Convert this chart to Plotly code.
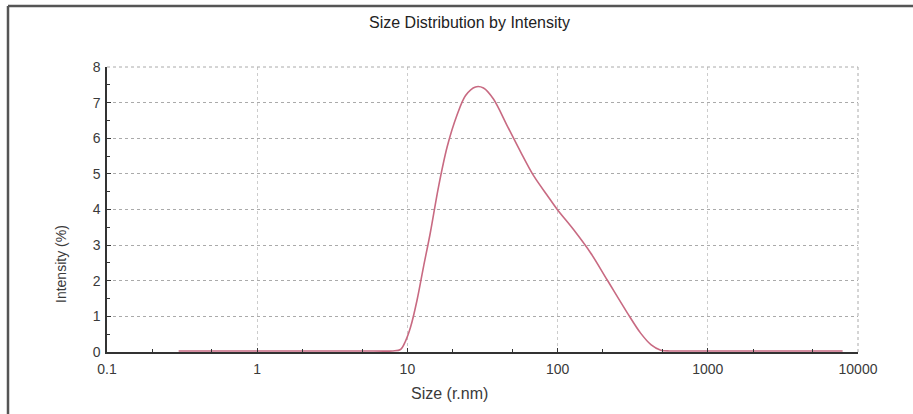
import plotly.graph_objects as go

# Data
size_nm = [0.3, 0.5, 1, 2, 5, 8.0, 9.0, 9.7, 10.5, 11.6, 12.8, 14.2, 16.1, 18.4, 21.4,
           24.4, 28.4, 32.1, 37.4, 46.2, 56.7, 69.2, 85.2, 99.5, 128, 166, 214, 291,
           357, 420, 486, 560, 1000, 3000, 7900]
intensity = [0.03, 0.03, 0.03, 0.03, 0.03, 0.03, 0.07, 0.3, 0.7, 1.46, 2.39, 3.34, 4.63,
             5.76, 6.65, 7.2, 7.44, 7.41, 7.1, 6.35, 5.62, 4.95, 4.4, 4.0, 3.43, 2.78,
             2.02, 1.1, 0.53, 0.2, 0.05, 0.03, 0.03, 0.03, 0.03]

x_tickvals = [0.1, 1, 10, 100, 1000, 10000]
x_ticktext = ["0.1", "1", "10", "100", "1000", "10000"]
y_tickvals = [0, 1, 2, 3, 4, 5, 6, 7, 8]

W, H = 913, 414
L, R, T, B = 107, 55, 67, 62

fig = go.Figure()
fig.add_trace(go.Scatter(
    x=size_nm, y=intensity, mode="lines",
    line=dict(color="#c86a82", width=1.6, shape="spline", smoothing=0.9),
    showlegend=False, hoverinfo="skip"))

font = "Liberation Sans, Arial, sans-serif"
txt = "#3a3a3a"

fig.update_layout(
    width=W, height=H,
    margin=dict(l=L, r=R, t=T, b=B),
    paper_bgcolor="white", plot_bgcolor="white",
    font=dict(family=font, size=14, color=txt),
    xaxis=dict(
        type="log", range=[-1, 4],
        tickvals=x_tickvals, ticktext=x_ticktext,
        showgrid=True, gridcolor="#cccccc", gridwidth=1, griddash="dot",
        showline=True, linecolor="#333333", linewidth=1.5,
        ticks="inside", ticklen=4, tickcolor="#333333",
        minor=dict(ticks="inside", ticklen=3, tickcolor="#333333", showgrid=False),
        zeroline=False, tickfont=dict(size=14, color=txt), ticklabelstandoff=3,
    ),
    yaxis=dict(
        range=[0, 8], tickvals=y_tickvals,
        showgrid=True, gridcolor="#aaaaaa", gridwidth=1, griddash="dot",
        showline=True, linecolor="#333333", linewidth=1.5,
        ticks="inside", ticklen=4, tickcolor="#333333",
        minor=dict(dtick=0.5, ticks="inside", ticklen=3, tickcolor="#333333", showgrid=False),
        zeroline=False, tickfont=dict(size=14, color=txt), ticklabelstandoff=2,
    ),
)

pw = W - L - R
ph = H - T - B
def px2paper_x(px):
    return (px - L) / pw
def px2paper_y(py):
    return (H - B - py) / ph

fig.add_annotation(text="Size Distribution by Intensity", xref="paper", yref="paper",
                   x=px2paper_x(469), y=px2paper_y(23), showarrow=False,
                   font=dict(size=16, color="#222222"), xanchor="center", yanchor="middle")
fig.add_annotation(text="Size (r.nm)", xref="paper", yref="paper",
                   x=px2paper_x(449), y=px2paper_y(393), showarrow=False,
                   font=dict(size=16, color=txt), xanchor="center", yanchor="middle")
fig.add_annotation(text="Intensity (%)", xref="paper", yref="paper",
                   x=px2paper_x(61), y=px2paper_y(264), showarrow=False, textangle=-90,
                   font=dict(size=14, color=txt), xanchor="center", yanchor="middle")

# top gridline at 8 and right gridline at 10000 (plot edges)
fig.add_shape(type="line", xref="paper", yref="paper", x0=0, x1=1, y0=1, y1=1,
              line=dict(color="#aaaaaa", width=1, dash="dot"))
fig.add_shape(type="line", xref="paper", yref="paper", x0=1, x1=1, y0=0, y1=1,
              line=dict(color="#aaaaaa", width=1, dash="dot"))

# outer frame (top and left edges visible)
fig.add_shape(type="line", xref="paper", yref="paper",
              x0=px2paper_x(8), x1=px2paper_x(913), y0=px2paper_y(6), y1=px2paper_y(6),
              line=dict(color="#555555", width=2.5))
fig.add_shape(type="line", xref="paper", yref="paper",
              x0=px2paper_x(8), x1=px2paper_x(8), y0=px2paper_y(6), y1=px2paper_y(414),
              line=dict(color="#555555", width=2.5))

fig.write_html("out.html")
